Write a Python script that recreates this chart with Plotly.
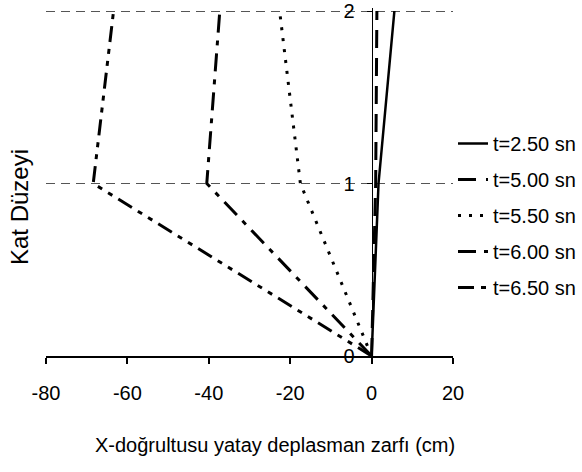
import plotly.graph_objects as go

levels = [0, 1, 2]
t250 = [0, 1.7, 5.6]
t500 = [0, 1.0, 1.3]
t550 = [0, -17.5, -22.6]
t600 = [0, -40.5, -37.3]
t650 = [0, -68.4, -63.4]

names = ["t=2.50 sn", "t=5.00 sn", "t=5.50 sn", "t=6.00 sn", "t=6.50 sn"]
series = [t250, t500, t550, t600, t650]

x_ticks = [-80, -60, -40, -20, 0, 20]
x_ticklabels = ["-80", "-60", "-40", "-20", "0", "20"]
y_ticks = [0, 1, 2]
y_ticklabels = ["0", "1", "2"]

dashes = ["solid", "18px,10px", "3px,8px", "18px,8px,5px,8px", "16px,7px,5px,7px,5px,7px"]
widths = [2.5, 3, 3, 3, 3]

FONT = "Liberation Sans, Arial, sans-serif"

fig = go.Figure()
for i, (nm, s) in enumerate(zip(names, series)):
    fig.add_trace(go.Scatter(
        x=s, y=levels, mode="lines", name=nm, legendgroup=nm,
        line=dict(color="black", width=widths[i], dash=dashes[i]),
        hoverinfo="skip",
    ))

W, H = 582, 472
L, R, T, B = 46, 129, 8, 116
pw = W - L - R
ph = H - T - B
ytop = 2 / (1 - 3 / ph)  # value 2 sits 3px below plot top so its gridline shows

def px_x(p):
    return (p - L) / pw

def px_y(p):
    return (H - B - p) / ph

fig.update_layout(
    width=W, height=H,
    margin=dict(l=L, r=R, t=T, b=B, autoexpand=False),
    plot_bgcolor="white", paper_bgcolor="white",
    font=dict(family=FONT, size=20, color="black"),
    showlegend=True,
    legend=dict(x=px_x(453), xanchor="left", y=px_y(124), yanchor="top",
                bgcolor="rgba(0,0,0,0)", font=dict(size=20),
                tracegroupgap=7, traceorder="grouped"),
    xaxis=dict(range=[-80, 20], tickvals=x_ticks, ticktext=x_ticklabels,
               showgrid=False, zeroline=False, showline=True, automargin=False,
               linecolor="black", linewidth=1.5, ticks="outside",
               ticklen=6, tickcolor="black", tickwidth=1.5,
               ticklabelstandoff=12),
    yaxis=dict(range=[0, ytop], tickvals=y_ticks, ticktext=y_ticklabels,
               anchor="free", position=0.8, automargin=False,
               side="left", showgrid=True, gridcolor="#555555", griddash="9px,6px",
               gridwidth=1, zeroline=False, showline=True, linecolor="black",
               linewidth=1, ticks="outside", ticklen=5, tickcolor="black",
               ticklabelstandoff=8),
    annotations=[
        dict(text="Kat Düzeyi", textangle=-90,
             x=px_x(19), y=px_y(207), xanchor="center", yanchor="middle",
             xref="paper", yref="paper", showarrow=False, font=dict(size=24)),
        dict(text="X-doğrultusu yatay deplasman zarfı (cm)",
             x=px_x(275), y=px_y(445), xanchor="center", yanchor="middle",
             xref="paper", yref="paper", showarrow=False, font=dict(size=20)),
    ],
)

fig.write_html("out.html", config={"displayModeBar": False},
               post_script="document.body.style.margin='0';")
